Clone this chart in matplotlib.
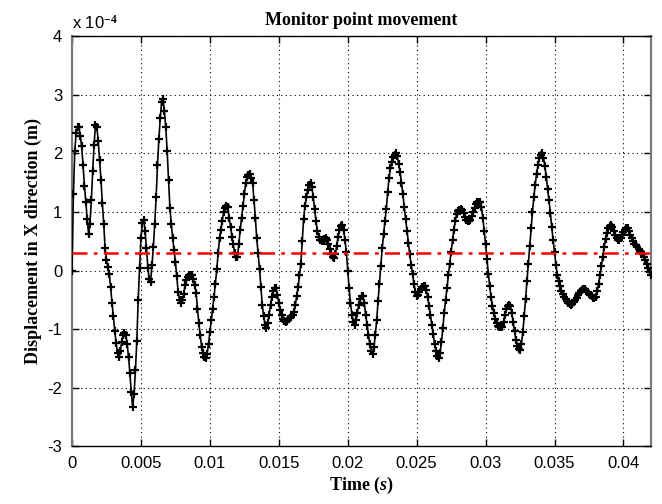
import numpy as np
import matplotlib
matplotlib.use("Agg")
import matplotlib.pyplot as plt
from matplotlib.ticker import FuncFormatter

# ---- data: displacement in units of 1e-4 m, read every 0.1 ms ----
dt_ms = 0.1
disp_e4 = [
    0.00, 1.30, 2.05, 2.35, 2.45, 2.46, 2.30, 2.12, 1.80, 1.45,
    1.18, 0.88, 0.63, 0.80, 1.20, 1.70, 2.15, 2.48, 2.45, 2.22,
    1.88, 1.55, 1.15, 0.80, 0.38, 0.18, 0.06, -0.05, -0.28, -0.55,
    -0.78, -1.03, -1.24, -1.40, -1.47, -1.38, -1.22, -1.10, -1.06, -1.10,
    -1.25, -1.48, -1.75, -2.08, -2.33, -2.10, -1.70, -1.20, -0.50, 0.05,
    0.55, 0.82, 0.87, 0.68, 0.38, 0.05, -0.15, -0.20, 0.10, 0.40,
    0.80, 1.25, 1.80, 2.25, 2.60, 2.88, 2.93, 2.72, 2.45, 2.05,
    1.55, 1.07, 0.80, 0.56, 0.35, 0.15, -0.10, -0.36, -0.50, -0.55,
    -0.50, -0.40, -0.25, -0.16, -0.11, -0.08, -0.07, -0.07, -0.15, -0.25,
    -0.38, -0.65, -0.90, -1.10, -1.30, -1.40, -1.47, -1.49, -1.42, -1.25,
    -1.05, -0.85, -0.65, -0.45, -0.22, 0.02, 0.30, 0.55, 0.70, 0.85,
    1.00, 1.07, 1.11, 1.08, 0.90, 0.75, 0.58, 0.45, 0.30, 0.23,
    0.24, 0.45, 0.70, 0.90, 1.10, 1.30, 1.50, 1.60, 1.64, 1.65,
    1.58, 1.50, 1.20, 0.90, 0.55, 0.30, 0.03, -0.28, -0.58, -0.78,
    -0.92, -0.98, -0.90, -0.75, -0.58, -0.45, -0.35, -0.29, -0.30, -0.42,
    -0.55, -0.67, -0.76, -0.82, -0.86, -0.87, -0.86, -0.83, -0.80, -0.79,
    -0.76, -0.70, -0.58, -0.43, -0.28, -0.08, 0.12, 0.50, 0.88, 1.10,
    1.25, 1.38, 1.46, 1.49, 1.42, 1.25, 1.05, 0.84, 0.68, 0.58,
    0.52, 0.50, 0.51, 0.54, 0.56, 0.53, 0.46, 0.37, 0.29, 0.24,
    0.22, 0.28, 0.42, 0.58, 0.70, 0.77, 0.78, 0.70, 0.52, 0.32,
    0.00, -0.30, -0.55, -0.75, -0.88, -0.92, -0.85, -0.72, -0.58, -0.48,
    -0.44, -0.44, -0.55, -0.75, -0.92, -1.10, -1.25, -1.38, -1.43, -1.30,
    -1.10, -0.85, -0.52, -0.22, 0.08, 0.38, 0.62, 0.85, 1.05, 1.35,
    1.58, 1.75, 1.86, 1.94, 1.98, 2.00, 1.95, 1.82, 1.68, 1.50,
    1.30, 1.08, 0.88, 0.68, 0.48, 0.28, 0.10, -0.05, -0.22, -0.36,
    -0.43, -0.42, -0.36, -0.31, -0.28, -0.27, -0.27, -0.33, -0.45, -0.60,
    -0.76, -0.92, -1.08, -1.25, -1.38, -1.46, -1.49, -1.40, -1.22, -0.98,
    -0.72, -0.50, -0.30, -0.08, 0.12, 0.32, 0.52, 0.70, 0.85, 0.97,
    1.02, 1.04, 1.05, 1.04, 0.98, 0.92, 0.87, 0.85, 0.84, 0.87,
    0.93, 1.00, 1.07, 1.13, 1.17, 1.18, 1.18, 1.08, 0.90, 0.68,
    0.45, 0.20, -0.05, -0.27, -0.45, -0.60, -0.72, -0.82, -0.89, -0.94,
    -0.96, -0.97, -0.96, -0.88, -0.76, -0.66, -0.60, -0.58, -0.60, -0.72,
    -0.88, -1.03, -1.18, -1.28, -1.34, -1.35, -1.25, -1.05, -0.78, -0.48,
    -0.18, 0.12, 0.42, 0.72, 1.00, 1.25, 1.47, 1.65, 1.80, 1.92,
    1.98, 2.00, 1.93, 1.78, 1.60, 1.40, 1.20, 0.98, 0.75, 0.52,
    0.32, 0.10, -0.07, -0.18, -0.27, -0.35, -0.40, -0.45, -0.49, -0.52,
    -0.55, -0.57, -0.58, -0.57, -0.54, -0.50, -0.46, -0.42, -0.38, -0.35,
    -0.33, -0.32, -0.32, -0.34, -0.37, -0.40, -0.42, -0.44, -0.46, -0.47,
    -0.45, -0.35, -0.22, -0.08, 0.08, 0.24, 0.40, 0.54, 0.65, 0.73,
    0.77, 0.78, 0.75, 0.68, 0.61, 0.56, 0.53, 0.53, 0.56, 0.61,
    0.66, 0.70, 0.72, 0.72, 0.68, 0.61, 0.55, 0.50, 0.46, 0.43,
    0.40, 0.37, 0.34, 0.31, 0.28, 0.24, 0.19, 0.12, 0.04, -0.03,
    -0.08,
]
mean_level_e4 = 0.3

time_s = np.arange(len(disp_e4)) * dt_ms * 1e-3
disp_m = np.array(disp_e4) * 1e-4

xticks = [0, 0.005, 0.01, 0.015, 0.02, 0.025, 0.03, 0.035, 0.04]
xtick_labels = ["0", "0.005", "0.01", "0.015", "0.02", "0.025", "0.03", "0.035", "0.04"]
yticks_e4 = [-3, -2, -1, 0, 1, 2, 3, 4]

plt.rcParams["mathtext.fontset"] = "custom"
plt.rcParams["mathtext.it"] = "Liberation Serif:italic:bold"
plt.rcParams["mathtext.rm"] = "Liberation Serif:bold"

fig = plt.figure(figsize=(6.62, 5.04), dpi=100)
ax = fig.add_axes([0.1088, 0.1143, 0.9834 - 0.1088, 0.928 - 0.1143])

ax.plot(time_s, disp_m, color="black", lw=1.2, marker="+", ms=5.5, mew=1.6, zorder=3)
ax.axhline(mean_level_e4 * 1e-4, color="red", lw=1.8, dashes=[6, 2.5, 1.5, 2.5], zorder=4)

ax.set_xlim(0, 0.042)
ax.set_ylim(-3e-4, 4e-4)
ax.set_xticks(xticks)
ax.set_xticklabels(xtick_labels)
ax.set_yticks([v * 1e-4 for v in yticks_e4])
ax.yaxis.set_major_formatter(FuncFormatter(lambda v, p: "%d" % round(v * 1e4)))

ax.grid(True, color="black", linestyle=(0, (1, 3)), lw=0.8)
ax.tick_params(direction="in", length=5, width=1, top=True, right=True,
               labelsize=12, pad=7)
for lab in ax.get_xticklabels() + ax.get_yticklabels():
    lab.set_family(["Liberation Sans"])
for s in ["left", "right"]:
    ax.spines[s].set_color("#7a7a7a")
    ax.spines[s].set_linewidth(1.6)
for s in ["top", "bottom"]:
    ax.spines[s].set_linewidth(1.0)

ax.set_title("Monitor point movement", family="Liberation Serif",
             fontweight="bold", fontsize=13, pad=8)
ax.set_xlabel(r"Time ($\mathit{s}$)", family="Liberation Serif",
              fontweight="bold", fontsize=13, labelpad=3)
ax.set_ylabel("Displacement in X direction (m)", family="Liberation Serif",
              fontweight="bold", fontsize=13, labelpad=4)
ax.text(0.0, 1.012, r"x 10$^{-4}$", transform=ax.transAxes,
        family="Liberation Sans", fontsize=12, ha="left", va="bottom")

fig.savefig("out.png", dpi=100)
